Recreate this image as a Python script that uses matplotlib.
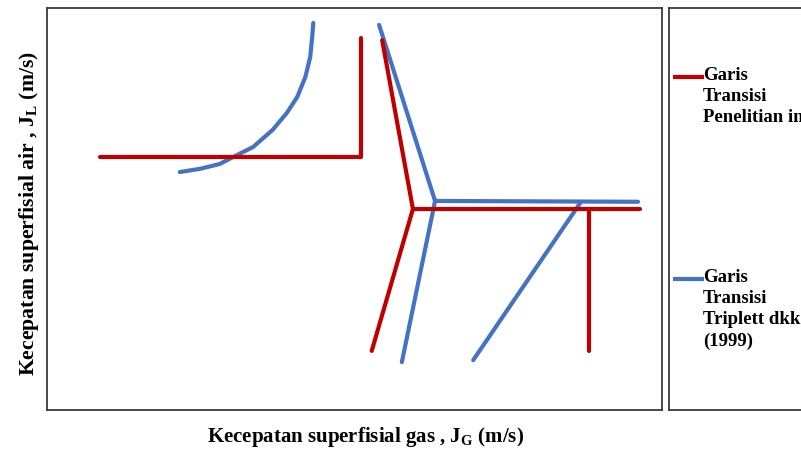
import matplotlib
matplotlib.use("Agg")
import matplotlib.pyplot as plt

plt.rcParams['font.family'] = ['Liberation Serif', 'DejaVu Serif']
plt.rcParams['font.weight'] = 'bold'
plt.rcParams['mathtext.fontset'] = 'custom'
plt.rcParams['mathtext.rm'] = 'Liberation Serif:bold'

# transition lines, this study (red), arbitrary units 0-10
red_a_x = [0.86, 5.11, 5.11]
red_a_y = [6.29, 6.29, 9.25]
red_b_x = [5.45, 5.95, 5.28]
red_b_y = [9.20, 5.00, 1.47]
red_c_x = [5.95, 9.64]
red_c_y = [5.00, 5.00]
red_d_x = [8.81, 8.81]
red_d_y = [5.00, 1.47]

# transition lines, Triplett et al. (1999) (blue)
blue_a_x = [2.16, 2.49, 2.81, 3.02, 3.35, 3.67, 3.90, 4.07, 4.20, 4.28, 4.31, 4.33]
blue_a_y = [5.92, 6.00, 6.12, 6.29, 6.54, 6.97, 7.39, 7.79, 8.28, 8.78, 9.25, 9.63]
blue_b_x = [5.40, 6.31, 5.77]
blue_b_y = [9.58, 5.20, 1.19]
blue_c_x = [6.31, 9.61]
blue_c_y = [5.20, 5.18]
blue_d_x = [8.67, 6.93]
blue_d_y = [5.15, 1.24]

red = '#C00000'
blue = '#4472C4'
frame = '#3a3a3a'

fig = plt.figure(figsize=(8.01, 4.5), dpi=100)
ax = fig.add_axes([47 / 801, 1 - 410 / 450, 615 / 801, 402 / 450])

kw = dict(lw=3, solid_capstyle='round', solid_joinstyle='round')
for xs, ys in [(blue_a_x, blue_a_y), (blue_b_x, blue_b_y), (blue_c_x, blue_c_y), (blue_d_x, blue_d_y)]:
    ax.plot(xs, ys, color=blue, **kw)
for xs, ys in [(red_a_x, red_a_y), (red_b_x, red_b_y), (red_c_x, red_c_y), (red_d_x, red_d_y)]:
    ax.plot(xs, ys, color=red, **kw)

ax.set_xlim(0, 10)
ax.set_ylim(0, 10)
ax.set_xticks([])
ax.set_yticks([])
for s in ax.spines.values():
    s.set_color(frame)
    s.set_linewidth(1.3)

fig.text(366 / 801, 1 - 437 / 450, r'Kecepatan superfisial gas , J$_{\mathrm{G}}$ (m/s)',
         ha='center', va='center', fontsize=15, fontweight='bold')
fig.text(29 / 801, 1 - 214 / 450, r'Kecepatan superfisial air , J$_{\mathrm{L}}$ (m/s)',
         ha='center', va='center', rotation=90, fontsize=15.7, fontweight='bold')

# legend box
lg = fig.add_axes([669 / 801, 1 - 410 / 450, 0.3, 402 / 450])
lg.set_xlim(669, 669 + 0.3 * 801)
lg.set_ylim(410, 8)
lg.set_xticks([])
lg.set_yticks([])
for s in lg.spines.values():
    s.set_color(frame)
    s.set_linewidth(1.3)

entries = [(red, 'Garis\nTransisi\nPenelitian ini', 77),
           (blue, 'Garis\nTransisi\nTriplett dkk\n(1999)', 279)]
for c, label, y in entries:
    lg.plot([675, 702], [y, y], color=c, lw=3)
    lg.text(703, y - 10, label, ha='left', va='top', fontsize=13.5,
            fontweight='bold', linespacing=1.32)

fig.savefig('out.png', dpi=100)
